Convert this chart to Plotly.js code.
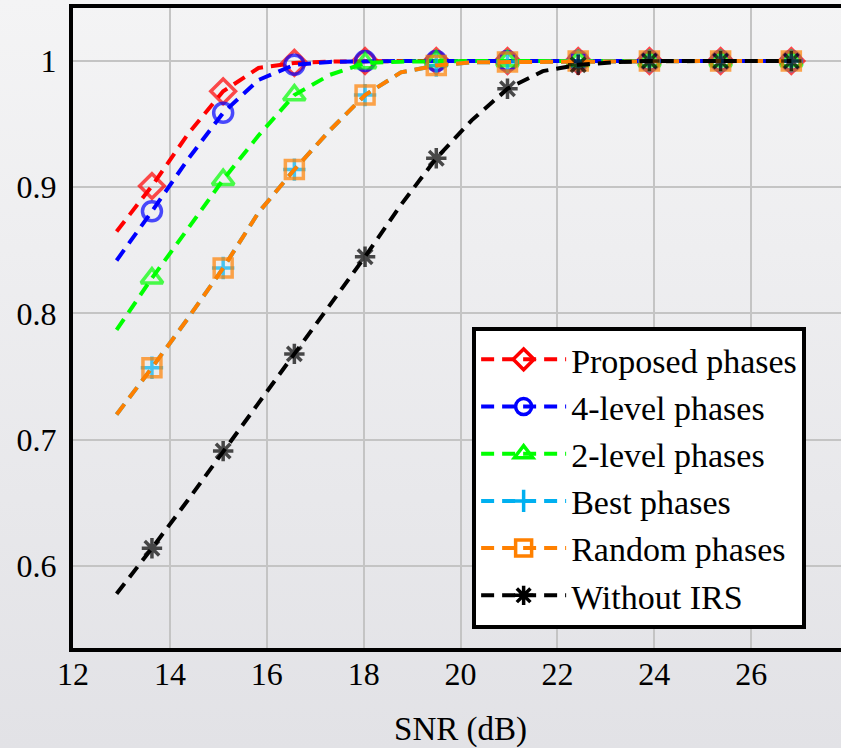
<!DOCTYPE html>
<html>
<head>
<meta charset="utf-8">
<script src="https://cdn.plot.ly/plotly-3.0.1.min.js"></script>
<style>
  html, body { margin: 0; padding: 0; overflow: hidden; width: 841px; height: 748px;
    background: linear-gradient(to bottom, #f4f4f5 0%, #e2e2e6 100%); }
  #chart { width: 860px; height: 748px; }
</style>
</head>
<body>
<div id="chart"></div>
<script>
// SNR sample points (dB); markers shown on every other sample
const snr = [12.9, 13.63, 14.37, 15.1, 15.83, 16.57, 17.3, 18.03, 18.77, 19.5,
             20.23, 20.97, 21.7, 22.43, 23.17, 23.9, 24.63, 25.37, 26.1, 26.83];
const proposed = [0.865, 0.901, 0.942, 0.976, 0.9945, 0.9985, 0.9995, 1, 1, 1,
                  1, 1, 1, 1, 1, 1, 1, 1, 1, 1];
const level4 = [0.842, 0.881, 0.922, 0.959, 0.985, 0.997, 0.9993, 1, 1, 1,
                1, 1, 1, 1, 1, 1, 1, 1, 1, 1];
const level2 = [0.787, 0.828, 0.867, 0.906, 0.941, 0.973, 0.989, 0.9984, 0.9995, 1,
                1, 1, 1, 1, 1, 1, 1, 1, 1, 1];
const best = [0.72, 0.757, 0.796, 0.836, 0.880, 0.914, 0.945, 0.973, 0.991, 0.9965,
              0.999, 0.9992, 0.9998, 1, 1, 1, 1, 1, 1, 1];
const random = [0.72, 0.757, 0.796, 0.836, 0.880, 0.914, 0.945, 0.973, 0.991, 0.9965,
                0.999, 0.9992, 0.9998, 1, 1, 1, 1, 1, 1, 1];
const withoutIRS = [0.578, 0.614, 0.652, 0.691, 0.729, 0.768, 0.807, 0.845, 0.886, 0.923,
                    0.953, 0.978, 0.992, 0.997, 0.999, 1, 1, 1, 1, 1];
const seriesNames = ['Proposed phases', '4-level phases', '2-level phases',
                     'Best phases', 'Random phases', 'Without IRS'];
const xTickVals = [12, 14, 16, 18, 20, 22, 24, 26, 28];
const xTickText = ['12', '14', '16', '18', '20', '22', '24', '26', '28'];
const yTickVals = [0.6, 0.7, 0.8, 0.9, 1];
const yTickText = ['0.6', '0.7', '0.8', '0.9', '1'];

const seriesData = [proposed, level4, level2, best, random, withoutIRS];
const styles = [
  {color: '#ff0000', symbol: 'diamond-open', size: 19},
  {color: '#0000ff', symbol: 'circle-open', size: 19},
  {color: '#00ff00', symbol: 'triangle-up-open', size: 19},
  {color: '#00b0f0', symbol: 'cross-thin-open', size: 16},
  {color: '#ff8000', symbol: 'square-open', size: 18},
  {color: '#000000', symbol: 'asterisk-open', size: 17}
];
const DASH = '13px,8px';
const traces = [];
seriesData.forEach((ys, i) => {
  const st = styles[i];
  const sizes = snr.map((_, k) => (k % 2 === 1 ? st.size : 0));
  traces.push({
    x: snr, y: ys, type: 'scatter', mode: 'lines+markers', showlegend: false,
    legendgroup: 'g' + i, name: seriesNames[i],
    line: {color: st.color, width: 4, dash: DASH},
    marker: {symbol: st.symbol, size: sizes, color: st.color,
             line: {color: st.color, width: 3.5}}
  });
});
// legend entries
seriesData.forEach((ys, i) => {
  const st = styles[i];
  traces.push({
    x: [null], y: [null], type: 'scatter', mode: 'lines+markers', showlegend: true,
    legendgroup: 'g' + i, name: seriesNames[i],
    line: {color: st.color, width: 4, dash: DASH},
    marker: {symbol: st.symbol, size: Math.min(st.size, 16), color: st.color,
             line: {color: st.color, width: 3.5}}
  });
});

const FONT = "Liberation Serif";
const layout = {
  width: 860, height: 748,
  margin: {l: 73, r: 12, t: 8, b: 100},
  paper_bgcolor: 'rgba(0,0,0,0)',
  plot_bgcolor: 'rgba(0,0,0,0)',
  font: {family: FONT, size: 32, color: '#000'},
  xaxis: {
    range: [12, 28], tickvals: xTickVals, ticktext: xTickText,
    showgrid: true, gridcolor: '#c4c4c4', gridwidth: 2,
    showline: true, mirror: true, linecolor: '#000', linewidth: 4,
    zeroline: false, ticks: '', ticklabelstandoff: -5,
    tickfont: {family: FONT, size: 32, color: '#000'},
    title: {text: 'SNR (dB)', font: {family: FONT, size: 33, color: '#000'}, standoff: 32}
  },
  yaxis: {
    range: [0.535, 1.042], tickvals: yTickVals, ticktext: yTickText,
    showgrid: true, gridcolor: '#c4c4c4', gridwidth: 2,
    showline: true, mirror: true, linecolor: '#000', linewidth: 4,
    zeroline: false, ticks: '', ticklabelstandoff: 6,
    tickfont: {family: FONT, size: 32, color: '#000'}
  },
  legend: {
    x: 0.515, y: 0.502, xanchor: 'left', yanchor: 'top',
    bgcolor: '#ffffff', bordercolor: '#000', borderwidth: 4,
    font: {family: FONT, size: 34, color: '#000'},
    itemwidth: 85, tracegroupgap: 0
  }
};
Plotly.newPlot('chart', traces, layout, {displayModeBar: false, staticPlot: true});
</script>
</body>
</html>
